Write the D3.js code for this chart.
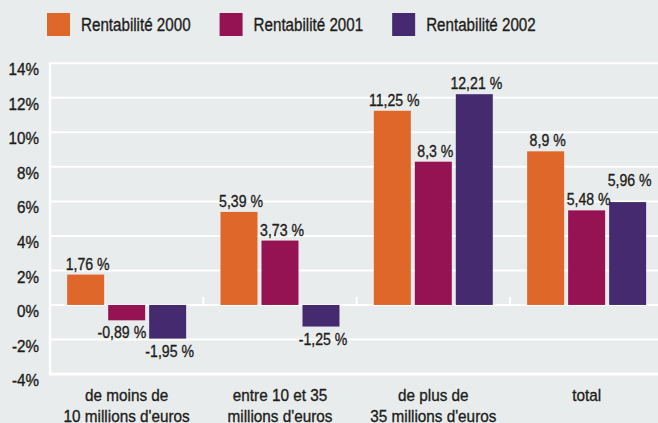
<!DOCTYPE html>
<html>
<head>
<meta charset="utf-8">
<script src="https://cdn.jsdelivr.net/npm/d3@7"></script>
<style>
  html, body { margin: 0; padding: 0; background: #e9ecec; }
  svg { display: block; }
  text { font-family: "Liberation Sans", Arial, sans-serif; fill: #1d1d1b; stroke: #1d1d1b; stroke-width: 0.35px; }
</style>
</head>
<body>
<svg id="chart" width="658" height="423"></svg>
<script>
const categories = ["de moins de\n10 millions d'euros", "entre 10 et 35\nmillions d'euros", "de plus de\n35 millions d'euros", "total"];
const series = ["Rentabilité 2000", "Rentabilité 2001", "Rentabilité 2002"];
const values2000 = [1.76, 5.39, 11.25, 8.9];
const values2001 = [-0.89, 3.73, 8.3, 5.48];
const values2002 = [-1.95, -1.25, 12.21, 5.96];
const yTicks = [-4, -2, 0, 2, 4, 6, 8, 10, 12, 14];
const colors = ["#e0672a", "#951353", "#452a70"];

const allValues = [values2000, values2001, values2002];
const W = 658, H = 423;
const svg = d3.select("#chart");
svg.append("rect").attr("width", W).attr("height", H).attr("fill", "#e9ecec");

const plotLeft = 50, plotRight = 663.3, plotTop = 63.3, plotBottom = 374;
const y = d3.scaleLinear().domain([-4, 14]).range([plotBottom, plotTop]);
const x0 = d3.scaleBand().domain(categories).range([plotLeft, plotRight]).padding(0);
const groupPad = x0.bandwidth() * 0.112;
const x1 = d3.scaleBand().domain(series).range([groupPad, x0.bandwidth() - groupPad]).paddingInner(0.0976).paddingOuter(0);

function addText(parent, x, yy, str, size, sx, anchor) {
  return parent.append("text")
    .attr("transform", `translate(${x},${yy}) scale(${sx},1)`)
    .attr("text-anchor", anchor || "middle")
    .style("font-size", size + "px")
    .text(str);
}

// gridlines
const grid = svg.append("g");
yTicks.filter(t => t > -4).forEach(t => {
  grid.append("line").attr("x1", plotLeft).attr("x2", W).attr("y1", y(t)).attr("y2", y(t))
    .attr("stroke", "#ffffff").attr("stroke-width", 2);
});
// frame: left + bottom
grid.append("line").attr("x1", plotLeft).attr("x2", plotLeft).attr("y1", y(14) - 1).attr("y2", y(-4) + 1.5)
  .attr("stroke", "#ffffff").attr("stroke-width", 2.5);
grid.append("line").attr("x1", plotLeft).attr("x2", W).attr("y1", y(-4)).attr("y2", y(-4))
  .attr("stroke", "#ffffff").attr("stroke-width", 3);
// separators at zero line
categories.slice(1).forEach(c => {
  grid.append("line").attr("x1", x0(c)).attr("x2", x0(c)).attr("y1", y(0)).attr("y2", y(0) - 8)
    .attr("stroke", "#ffffff").attr("stroke-width", 2);
});

// y axis
const yAxis = d3.axisLeft(y).tickValues(yTicks).tickFormat(d => d + "%").tickSize(0);
const yg = svg.append("g").attr("transform", `translate(${plotLeft},0)`).call(yAxis);
yg.select(".domain").remove();
yg.selectAll("text")
  .attr("x", null).attr("dy", null)
  .attr("transform", "translate(-11,11.6) scale(0.95,1)")
  .attr("text-anchor", "end")
  .style("font-size", "16px")
  .style("font-family", "'Liberation Sans', Arial, sans-serif")
  .attr("fill", "#1d1d1b");

// bars
const bars = svg.append("g");
const labelInfo = [];
categories.forEach((c, ci) => {
  const gx = x0(c);
  series.forEach((s, si) => {
    const v = allValues[si][ci];
    const bx = gx + x1(s);
    bars.append("rect")
      .attr("x", bx).attr("width", x1.bandwidth())
      .attr("y", y(Math.max(0, v))).attr("height", Math.abs(y(v) - y(0)))
      .attr("fill", colors[si]);
    labelInfo.push({ ci, si, v, bx, bw: x1.bandwidth() });
  });
});

// value labels
const labels = svg.append("g");
const LS = 17, LSX = 0.83, LH = 12;
categories.forEach((c, ci) => {
  const items = labelInfo.filter(d => d.ci === ci);
  const placed = [];
  items.forEach((d, k) => {
    const str = String(d.v).replace(".", ",") + " %";
    const t = addText(labels, 0, 0, str, LS, LSX, "middle");
    const w = t.node().getComputedTextLength() * LSX;
    let cx = d.bx + d.bw / 2 + 2;
    let base;
    if (d.v >= 0) {
      base = y(d.v) - 5;
      placed.forEach(p => {
        if (p.pos && cx - w / 2 < p.x2 + 1 && cx + w / 2 > p.x1 && base > p.top && base - LH < p.base) {
          base = p.top - 7;
        }
      });
    } else {
      base = y(d.v) + 6 + LH;
      const next = items[k + 1];
      if (next && next.v < 0 && y(next.v) > base - LH && cx + w / 2 > next.bx - 2) {
        cx = next.bx - 3 - w / 2;
      }
    }
    t.attr("transform", `translate(${cx},${base}) scale(${LSX},1)`);
    placed.push({ pos: d.v >= 0, x1: cx - w / 2, x2: cx + w / 2, top: base - LH, base });
  });
});

// category labels
const cats = svg.append("g");
categories.forEach(c => {
  const lines = c.split("\n");
  const cx = x0(c) + x0.bandwidth() / 2;
  lines.forEach((ln, i) => {
    addText(cats, cx, 401 + i * 20.5, ln, 17, 0.9, "middle");
  });
});

// legend
const legend = svg.append("g");
let lx = 47;
series.forEach((s, si) => {
  legend.append("rect").attr("x", lx).attr("y", 13).attr("width", 23).attr("height", 23).attr("fill", colors[si]);
  const t = addText(legend, lx + 34, 31, s, 18.5, 0.82, "start");
  const w = t.node().getComputedTextLength() * 0.82;
  lx = lx + 34 + w + 29;
});
</script>
</body>
</html>
